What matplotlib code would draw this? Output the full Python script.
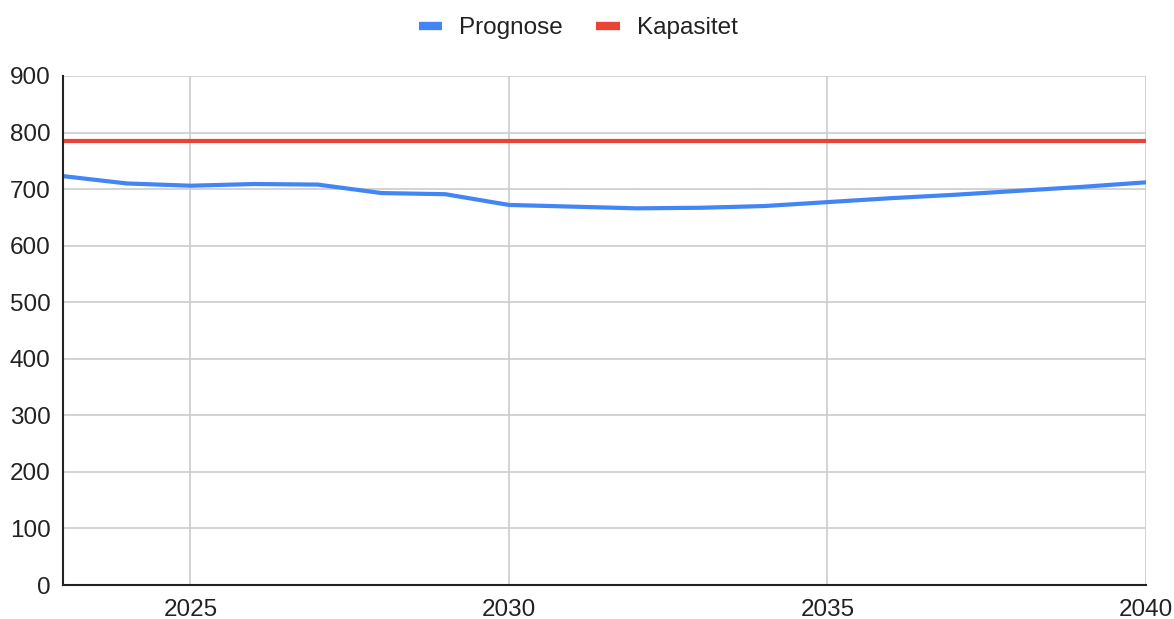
import matplotlib.pyplot as plt
from matplotlib.lines import Line2D

plt.rcParams['font.family'] = ['Liberation Sans', 'DejaVu Sans']

# data
years = list(range(2023, 2041))
prognose = [723, 710, 706, 709, 708, 693, 691, 672, 669, 666, 667, 670, 677,
            684, 690, 697, 704, 712]
kapasitet = [785] * len(years)

blue = '#4285F4'
red = '#EA4335'

fig = plt.figure(figsize=(11.74, 6.19), dpi=100)
ax = fig.add_axes([63 / 1174, 1 - 585 / 619, (1146 - 63) / 1174, (585 - 76) / 619])

ax.plot(years, kapasitet, color=red, lw=3, solid_capstyle='butt', zorder=3)
ax.plot(years, prognose, color=blue, lw=3, solid_capstyle='round', zorder=4)

ax.set_xlim(2023, 2040)
ax.set_ylim(0, 900)
ax.set_xticks([2025, 2030, 2035, 2040])
ax.set_yticks(range(0, 901, 100))
ax.grid(True, color='#cccccc', lw=1.2)
ax.set_axisbelow(True)

for s in ['top', 'right']:
    ax.spines[s].set_visible(False)
for s in ['left', 'bottom']:
    ax.spines[s].set_color('#222222')
    ax.spines[s].set_linewidth(1.5)
    ax.spines[s].set_zorder(5)

ax.tick_params(length=0, labelsize=17.5, colors='#222222')
ax.tick_params(axis='y', pad=9)
ax.tick_params(axis='x', pad=10)

handles = [Line2D([], [], color=blue, lw=6, solid_capstyle='butt'),
           Line2D([], [], color=red, lw=6, solid_capstyle='butt')]
fig.legend(handles, ['Prognose', 'Kapasitet'], loc='center',
           bbox_to_anchor=(578 / 1174, 1 - 28 / 619), ncol=2, frameon=False,
           fontsize=17.5, handlelength=0.95, handletextpad=0.7,
           columnspacing=1.4, labelcolor='#222222')

fig.savefig('out.png', dpi=100)
